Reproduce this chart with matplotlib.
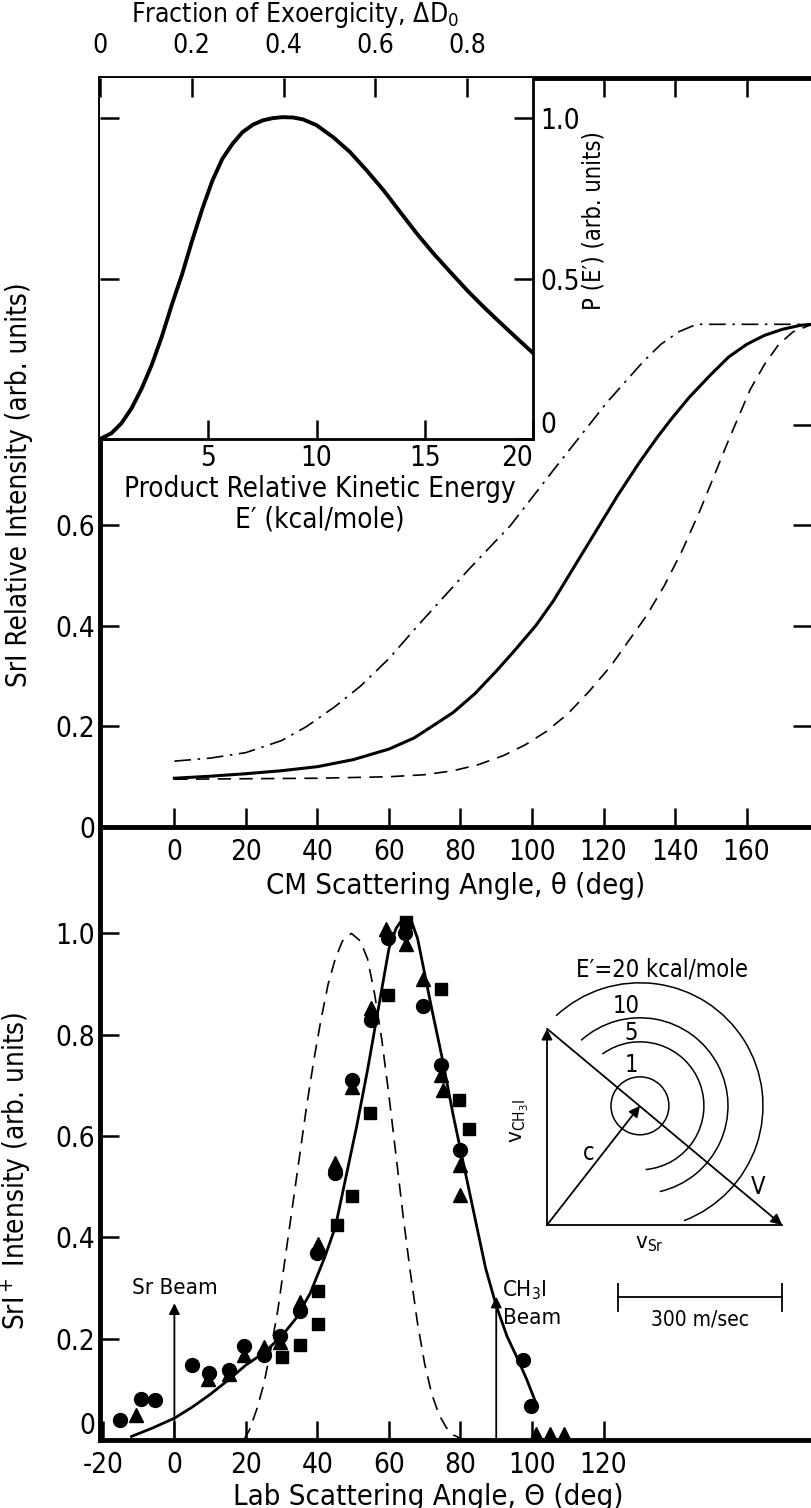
import matplotlib
matplotlib.use('Agg')
import matplotlib.pyplot as plt
from matplotlib import font_manager
from matplotlib.patches import Arc

# pick a narrow sans font if one is installed
ttf = font_manager.fontManager.ttflist
names = {f.name for f in ttf}
stretch = 'normal'
if any(f.name == 'DejaVu Sans' and str(f.stretch) in ('condensed', 'semi-condensed') for f in ttf):
    main_font = 'DejaVu Sans'
    stretch = 'condensed'
elif 'Liberation Sans Narrow' in names:
    main_font = 'Liberation Sans Narrow'
elif 'Roboto Condensed' in names:
    main_font = 'Roboto Condensed'
elif 'Liberation Sans' in names:
    main_font = 'Liberation Sans'
else:
    main_font = 'DejaVu Sans'
plt.rcParams['font.family'] = [main_font, 'DejaVu Sans']
plt.rcParams['font.stretch'] = stretch
plt.rcParams['mathtext.fontset'] = 'custom'
plt.rcParams['mathtext.rm'] = main_font
plt.rcParams['mathtext.it'] = main_font + ':italic'
plt.rcParams['mathtext.bf'] = main_font + ':bold'

# ---- inset: P(E') distribution ----
e_prime = [0, 0.53, 0.99, 1.46, 1.93, 2.39, 2.86, 3.32, 3.79, 4.25, 4.72, 5.19, 5.65,
           6.12, 6.58, 7.05, 7.52, 7.98, 8.45, 8.91, 9.38, 10.0, 10.78, 11.55, 12.33,
           13.11, 13.88, 14.66, 15.43, 16.21, 16.99, 17.76, 18.54, 19.32, 20.0]
p_e = [0, 0.018, 0.049, 0.096, 0.158, 0.231, 0.32, 0.419, 0.513, 0.617, 0.716, 0.805,
       0.873, 0.92, 0.956, 0.979, 0.993, 1.0, 1.003, 1.002, 0.996, 0.978, 0.94, 0.894,
       0.836, 0.774, 0.706, 0.638, 0.576, 0.518, 0.461, 0.409, 0.359, 0.31, 0.268]
exoergicity = 21.2   # kcal/mole, fraction axis on top
frac_ticks = [0, 0.2, 0.4, 0.6, 0.8]
e_ticks = [5, 10, 15, 20]

# ---- top panel: CM angular distributions ----
theta_solid = [0, 10, 20, 30, 40, 50, 60, 67, 72, 78, 84, 90, 95, 101, 106, 112, 118,
               124, 130, 135, 139, 144, 150, 155, 160, 165, 170, 175, 178.3]
srI_solid = [0.097, 0.101, 0.106, 0.112, 0.12, 0.134, 0.155, 0.177, 0.2, 0.228, 0.265,
             0.31, 0.35, 0.4, 0.45, 0.52, 0.59, 0.66, 0.725, 0.775, 0.812, 0.855, 0.9,
             0.935, 0.96, 0.978, 0.99, 0.998, 1.0]
theta_dash = [0, 20, 40, 60, 70, 78, 85, 92, 98, 104, 110, 116, 122, 127, 132, 137,
              142, 147, 151, 155, 158, 161, 165, 169, 173, 178.3]
srI_dash = [0.095, 0.096, 0.097, 0.1, 0.104, 0.112, 0.124, 0.142, 0.163, 0.19, 0.225,
            0.27, 0.32, 0.37, 0.42, 0.48, 0.55, 0.63, 0.7, 0.77, 0.82, 0.87, 0.92,
            0.96, 0.985, 1.0]
theta_dashdot = [0, 10, 20, 30, 37, 45, 52, 60, 68, 75, 82, 88, 94, 100, 106, 111,
                 116, 121, 126, 131, 136, 141, 146, 178.3]
srI_dashdot = [0.131, 0.137, 0.148, 0.172, 0.2, 0.24, 0.28, 0.335, 0.4, 0.455, 0.51,
               0.555, 0.6, 0.655, 0.71, 0.755, 0.8, 0.845, 0.885, 0.925, 0.96, 0.985,
               1.0, 1.0]
cm_ticks = [0, 20, 40, 60, 80, 100, 120, 140, 160]

# ---- bottom panel: lab angular distribution ----
circ_x = [-15.3, -9.4, -5.3, 4.8, 9.7, 15.3, 19.6, 25, 29.6, 35, 39.8, 44.9, 49.7,
          55, 59.7, 64.6, 69.6, 74.5, 79.8, 97.4, 99.8]
circ_y = [0.039, 0.08, 0.078, 0.148, 0.133, 0.138, 0.185, 0.168, 0.206, 0.254, 0.37,
          0.528, 0.71, 0.83, 0.99, 1.0, 0.857, 0.74, 0.573, 0.158, 0.067]
tri_x = [-10.6, 9.3, 15.3, 19.6, 25, 29.6, 35, 40.3, 44.9, 49.7, 55, 59.3, 64.8,
         69.6, 74.5, 75, 79.8, 79.8, 101, 105, 109]
tri_y = [0.05, 0.12, 0.13, 0.168, 0.183, 0.194, 0.273, 0.387, 0.547, 0.696, 0.852,
         1.008, 0.98, 0.91, 0.72, 0.69, 0.543, 0.483, 0.012, 0.012, 0.012]
sq_x = [30.1, 35.2, 40.3, 40.3, 45.4, 49.7, 54.6, 59.7, 64.8, 74.5, 79.6, 82.4]
sq_y = [0.163, 0.188, 0.295, 0.229, 0.424, 0.481, 0.646, 0.878, 1.023, 0.891, 0.671,
        0.614]
lab_fit_x = [-12, -6, 0, 5, 10, 15, 20, 25, 30, 34, 38, 42, 45, 48, 51, 54, 57, 60,
             62, 64, 66, 68, 70, 72, 75, 78, 81, 84, 87, 90, 93, 96, 98.5, 101]
lab_fit_y = [0.007, 0.024, 0.043, 0.065, 0.09, 0.118, 0.148, 0.172, 0.205, 0.24, 0.29,
             0.36, 0.42, 0.52, 0.62, 0.73, 0.85, 0.97, 1.01, 1.03, 1.03, 0.99, 0.92,
             0.85, 0.75, 0.64, 0.54, 0.44, 0.34, 0.265, 0.205, 0.16, 0.12, 0.075]
lab_dash_x = [19.4, 21, 23, 25, 27, 29, 31, 33, 35, 37, 39, 41, 43, 45, 47, 49.5, 52,
              54, 56, 58, 60, 62, 64, 66, 68, 70, 72, 74, 76, 78, 81]
lab_dash_y = [0, 0.02, 0.06, 0.11, 0.18, 0.26, 0.36, 0.46, 0.56, 0.66, 0.75, 0.83,
              0.9, 0.95, 0.985, 1.0, 0.985, 0.95, 0.88, 0.79, 0.68, 0.56, 0.44, 0.33,
              0.23, 0.15, 0.09, 0.05, 0.025, 0.01, 0]
lab_ticks = [-20, 0, 20, 40, 60, 80, 100, 120]
beam_angles = [0, 90]          # Sr beam, CH3I beam
beam_heights = [0.27, 0.283]

# ---- Newton diagram (m/sec) ----
v_sr = 430
v_ch3i = 359
c_vec = (170, 218)
energies = ['1', '5', '10', 'E′=20 kcal/mole']
radii = [53, 117, 161, 225]
arc_start = [0, -85, -77, -69]
arc_end = [360, 126, 132, 133]
scale_bar = 300

W, H = 811, 1508
fig = plt.figure(figsize=(W / 100, H / 100), dpi=100)


def box(l, t, r, b):
    return [l / W, 1 - b / H, (r - l) / W, (b - t) / H]


ax2 = fig.add_axes(box(100, 827, 812, 1440))
ax1 = fig.add_axes(box(100, 78, 812, 827))
axin = fig.add_axes(box(100, 78, 533, 439))
axv = fig.add_axes(box(500, 950, 811, 1340))

spine_w = 3.5
tick_size = 20
label_size = 20
tick_kw = dict(direction='in', length=14, width=1.8, labelsize=tick_size, color='black')

# ---------- top panel ----------
ax1.plot(theta_solid, srI_solid, color='black', lw=2.2)
ax1.plot(theta_dash, srI_dash, color='black', lw=1.2, ls=(0, (8, 5)))
ax1.plot(theta_dashdot, srI_dashdot, color='black', lw=1.2, ls=(0, (10, 4, 1.5, 4)))
ax1.set_xlim(-20.8, 178.3)
ax1.set_ylim(0, 1.49)
ax1.set_xticks(cm_ticks)
ax1.set_xticklabels([str(t) for t in cm_ticks])
ax1.set_yticks([0, 0.2, 0.4, 0.6])
ax1.set_yticklabels(['0', '0.2', '0.4', '0.6'])
ax1.tick_params(**tick_kw)
ax1.tick_params(axis='x', pad=8)
for s in ax1.spines.values():
    s.set_linewidth(spine_w)
ax1.set_xlabel('CM Scattering Angle, θ (deg)', fontsize=label_size + 1)
ax1.set_ylabel('SrI Relative Intensity (arb. units)', fontsize=label_size)
ax1.yaxis.set_label_coords(-0.094, 0.457)

right = ax1.secondary_yaxis('right')
right.set_yticks([0.2, 0.4, 0.6, 0.8])
right.tick_params(direction='in', length=14, width=1.8, labelright=False)
right.spines['right'].set_visible(False)
top = ax1.secondary_xaxis('top')
top.set_xticks([120, 140, 160])
top.tick_params(direction='in', length=14, width=1.8, labeltop=False)
top.spines['top'].set_visible(False)

# ---------- inset ----------
axin.plot(e_prime, p_e, color='black', lw=2.8)
axin.set_xlim(0, 20)
axin.set_ylim(0, 1.125)
axin.spines['top'].set_visible(False)
axin.spines['left'].set_visible(False)
for s in ['right', 'bottom']:
    axin.spines[s].set_linewidth(2.0)
axin.set_xticks(e_ticks)
axin.set_xticklabels([str(t) for t in e_ticks])
axin.set_yticks([0, 0.5, 1.0])
axin.set_yticklabels(['0', '0.5', '1.0'])
axin.tick_params(**tick_kw)
axin.tick_params(axis='y', left=True, right=True, labelleft=False, labelright=True,
                 pad=5)
axin.get_xticklabels()[-1].set_horizontalalignment('right')
axin.get_yticklabels()[0].set_verticalalignment('bottom')
axin.set_xlabel('Product Relative Kinetic Energy\nE′ (kcal/mole)', fontsize=label_size,
                linespacing=1.1)
axin.xaxis.set_label_coords(0.508, -0.1)
axin.yaxis.set_label_position('right')
axin.set_ylabel('P (E′) (arb. units)', fontsize=label_size - 3)
axin.yaxis.set_label_coords(1.113, 0.604)

frac = axin.secondary_xaxis('top', functions=(lambda e: e / exoergicity,
                                               lambda f: f * exoergicity))
frac.set_xticks(frac_ticks)
frac.set_xticklabels(['0', '0.2', '0.4', '0.6', '0.8'])
frac.tick_params(direction='in', length=14, width=1.8, labelsize=tick_size - 1, pad=14)
frac.spines['top'].set_visible(False)
fig.text(295 / W, 1 - 15 / H, 'Fraction of Exoergicity, ΔD$_0$', fontsize=label_size - 1,
         ha='center', va='center')

# ---------- bottom panel ----------
ax2.plot(lab_dash_x, lab_dash_y, color='black', lw=1.2, ls=(0, (8, 5)))
ax2.plot(lab_fit_x, lab_fit_y, color='black', lw=2.0)
ax2.plot(circ_x, circ_y, 'o', color='black', ms=10)
ax2.plot(tri_x, tri_y, '^', color='black', ms=10)
ax2.plot(sq_x, sq_y, 's', color='black', ms=9)
ax2.set_xlim(-20.8, 178.3)
ax2.set_ylim(0, 1.21)
ax2.spines['top'].set_visible(False)
ax2.spines['right'].set_visible(False)
for s in ['left', 'bottom']:
    ax2.spines[s].set_linewidth(spine_w)
ax2.set_xticks(lab_ticks)
ax2.set_xticklabels([str(t) for t in lab_ticks])
ax2.set_yticks([0, 0.2, 0.4, 0.6, 0.8, 1.0])
ax2.set_yticklabels(['0', '0.2', '0.4', '0.6', '0.8', '1.0'])
ax2.tick_params(**tick_kw)
ax2.tick_params(axis='x', pad=8)
ax2.get_yticklabels()[0].set_verticalalignment('bottom')
ax2.set_xlabel('Lab Scattering Angle, Θ (deg)', fontsize=label_size + 1)
ax2.xaxis.set_label_coords(0.461, -0.07)
ax2.set_ylabel('SrI$^+$ Intensity (arb. units)', fontsize=label_size)
ax2.yaxis.set_label_coords(-0.094, 0.44)

for ang, hgt in zip(beam_angles, beam_heights):
    ax2.annotate('', xy=(ang, hgt), xytext=(ang, 0),
                 arrowprops=dict(arrowstyle='-|>', color='black', lw=1.3,
                                 mutation_scale=16, shrinkA=0, shrinkB=0))
ax2.text(beam_angles[0], 0.30, 'Sr Beam', fontsize=16, ha='center', va='center')
ax2.text(beam_angles[1] + 1.5, 0.296, 'CH$_3$I', fontsize=16, ha='left', va='center')
ax2.text(beam_angles[1] + 2, 0.24, 'Beam', fontsize=16, ha='left', va='center')

# ---------- Newton diagram ----------
ms_per_px = 1.829
axv.set_xlim((500 - 547) * ms_per_px, (811 - 547) * ms_per_px)
axv.set_ylim((1225 - 1340) * ms_per_px, (1225 - 950) * ms_per_px)
axv.axis('off')
axv.patch.set_alpha(0)
arrow_kw = dict(arrowstyle='-|>', color='black', lw=1.3, mutation_scale=16,
                shrinkA=0, shrinkB=0)
axv.plot([0, v_sr], [0, 0], color='black', lw=1.3)
axv.annotate('', xy=(0, v_ch3i), xytext=(0, 0), arrowprops=arrow_kw)
axv.annotate('', xy=(v_sr, 0), xytext=(0, v_ch3i), arrowprops=arrow_kw)
axv.annotate('', xy=c_vec, xytext=(0, 0), arrowprops=arrow_kw)
for r, t1, t2 in zip(radii, arc_start, arc_end):
    axv.add_patch(Arc(c_vec, 2 * r, 2 * r, theta1=t1, theta2=t2, color='black', lw=1.1))
label_y = [293, 351, 400, 468]
label_x = [154, 154, 144, 210]
for lx, ly, txt in zip(label_x, label_y, energies):
    axv.text(lx, ly, txt, fontsize=17, ha='center', va='center')
axv.text(77, 132, 'c', fontsize=17, ha='center', va='center')
axv.text(386, 70, 'V', fontsize=17, ha='center', va='center')
axv.text(-49, 190, 'v$_{\\mathregular{CH_3I}}$', fontsize=16, rotation=90,
         ha='center', va='center')
axv.text(188, -35, 'v$_{\\mathregular{Sr}}$', fontsize=16, ha='center', va='center')

# scale bar
bar_y = -132
axv.plot([130, 130 + scale_bar], [bar_y, bar_y], color='black', lw=1.3)
for bx in [130, 130 + scale_bar]:
    axv.plot([bx, bx], [bar_y - 25, bar_y + 25], color='black', lw=1.3)
axv.text(130 + scale_bar / 2, bar_y - 40, '300 m/sec', fontsize=15, ha='center',
         va='center')

fig.savefig('out.png', dpi=100)
